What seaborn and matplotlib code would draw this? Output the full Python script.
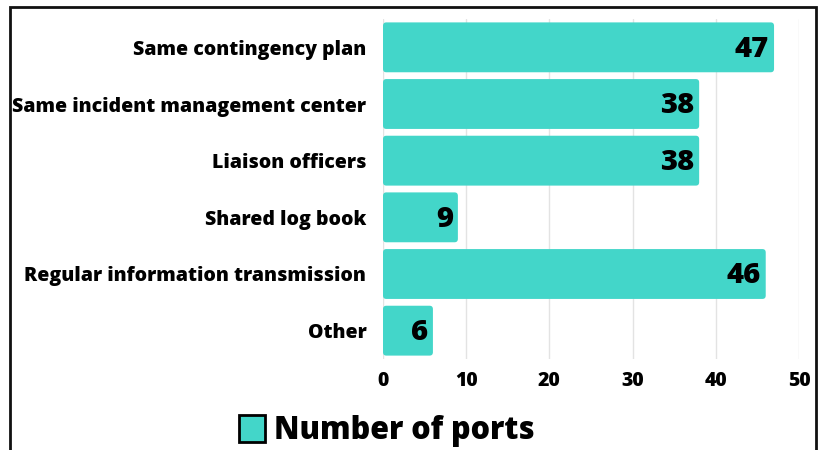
import matplotlib.pyplot as plt
import seaborn as sns
import pandas as pd
from matplotlib.patches import Patch, Rectangle, FancyBboxPatch

# data
measures = ["Same contingency plan", "Same incident management center", "Liaison officers",
            "Shared log book", "Regular information transmission", "Other"]
ports = [47, 38, 38, 9, 46, 6]

df = pd.DataFrame({"measure": measures, "ports": ports})
color = "#43d6c9"

sns.set_style("white")
plt.rcParams['font.family'] = ['Open Sans', 'DejaVu Sans']
plt.rcParams['text.color'] = 'black'
plt.rcParams['xtick.color'] = 'black'
plt.rcParams['ytick.color'] = 'black'

fig = plt.figure(figsize=(8.21, 4.5), dpi=100)
ax = fig.add_axes([383 / 821, 1 - 359 / 450, 416 / 821, 340 / 450])

sns.barplot(x="ports", y="measure", data=df, color=color, width=0.88, saturation=1, ax=ax)

# swap plain bars for slightly rounded ones
for p in list(ax.patches):
    x, y, w, h = p.get_x(), p.get_y(), p.get_width(), p.get_height()
    p.remove()
    ax.add_patch(FancyBboxPatch((x, y), w, h, boxstyle="round,pad=0,rounding_size=0.4",
                                mutation_aspect=0.15, facecolor=color, edgecolor="none"))

# value labels inside the bar ends
for i, v in enumerate(ports):
    ax.text(v - 0.6, i + 0.03, str(v), ha="right", va="center", fontsize=21, fontweight="heavy")

ax.set_xlim(0, 50)
ax.set_xticks([0, 10, 20, 30, 40, 50])
ax.grid(axis="x", color="#e3e3e3", linewidth=1)
ax.set_axisbelow(True)
for s in ax.spines.values():
    s.set_visible(False)
ax.set_xlabel("")
ax.set_ylabel("")
ax.tick_params(axis="both", length=0, labelsize=14)
ax.tick_params(axis="y", pad=12)
ax.tick_params(axis="x", pad=9)
for lab in ax.get_xticklabels() + ax.get_yticklabels():
    lab.set_fontweight("heavy")

# legend at bottom
fig.legend(handles=[Patch(facecolor=color, edgecolor="black", linewidth=2, label="Number of ports")],
           loc="center", bbox_to_anchor=(0.471, 1 - 431 / 450), frameon=False,
           prop={"weight": "heavy", "size": 22}, handlelength=0.85, handleheight=0.95, handletextpad=0.3)

# frame around the figure
fig.patches.append(Rectangle((9.5 / 821, -0.1), (816 - 9.5) / 821, 1.1 - 7 / 450, transform=fig.transFigure,
                             fill=False, edgecolor="#111111", linewidth=2))

fig.savefig("out.png", dpi=100)
